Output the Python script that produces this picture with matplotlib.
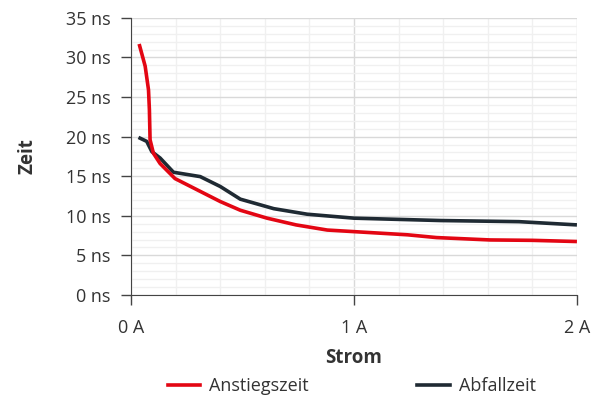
import matplotlib.pyplot as plt
from matplotlib.lines import Line2D

plt.rcParams["font.family"] = ["Open Sans", "DejaVu Sans"]

# Anstiegszeit (rise time)
rise_x = [0.036, 0.063, 0.078, 0.082, 0.085, 0.10, 0.13, 0.197, 0.295, 0.40,
          0.49, 0.61, 0.74, 0.88, 1.0, 1.24, 1.37, 1.61, 1.80, 2.0]
rise_y = [31.7, 28.9, 25.9, 23.4, 19.6, 17.9, 16.6, 14.7, 13.3, 11.8,
          10.7, 9.7, 8.85, 8.2, 8.0, 7.6, 7.25, 6.95, 6.9, 6.75]

# Abfallzeit (fall time)
fall_x = [0.033, 0.07, 0.093, 0.13, 0.19, 0.31, 0.40, 0.49, 0.64, 0.79,
          1.0, 1.39, 1.74, 2.0]
fall_y = [19.9, 19.4, 18.1, 17.3, 15.5, 14.95, 13.7, 12.1, 10.9, 10.2,
          9.7, 9.4, 9.26, 8.85]

red = "#e30613"
dark = "#1f2a33"
tick_col = "#333333"

fig = plt.figure(figsize=(5.96, 3.97), dpi=100)
ax = fig.add_axes([0.22, 0.257, 0.748, 0.698])

ax.plot(rise_x, rise_y, color=red, lw=2.6, solid_capstyle="butt", zorder=3)
ax.plot(fall_x, fall_y, color=dark, lw=2.6, solid_capstyle="butt", zorder=2)

ax.set_xlim(0, 2)
ax.set_ylim(0, 35)
ax.set_xticks([0, 1, 2])
ax.set_xticklabels(["0 A", "1 A", "2 A"])
ax.set_yticks(range(0, 36, 5))
ax.set_yticklabels([f"{v} ns" for v in range(0, 36, 5)])
ax.set_xticks([i * 0.2 for i in range(11)], minor=True)
ax.set_yticks(range(0, 36), minor=True)
ax.tick_params(axis="both", which="minor", length=0)
ax.tick_params(axis="both", which="major", length=7, width=1, color="#444444",
               labelsize=13, labelcolor=tick_col, pad=8)
ax.tick_params(axis="x", which="major", pad=10)

ax.grid(which="major", color="#d9d9d9", lw=1)
ax.grid(which="minor", color="#f0f0f0", lw=1)
ax.set_axisbelow(True)

for s in ["top", "right"]:
    ax.spines[s].set_visible(False)
for s in ["left", "bottom"]:
    ax.spines[s].set_color("#444444")

ax.set_xlabel("Strom", fontsize=13.5, fontweight="bold", color=tick_col, labelpad=8)
ax.set_ylabel("Zeit", fontsize=13.5, fontweight="bold", color=tick_col, labelpad=20)

handles = [Line2D([], [], color=red, lw=2.6), Line2D([], [], color=dark, lw=2.6)]
fig.legend(handles, ["Anstiegszeit", "Abfallzeit"], loc="center",
           bbox_to_anchor=(0.59, 0.028), ncol=2, frameon=False, fontsize=13,
           handlelength=1.8, handletextpad=0.5, columnspacing=6.0,
           labelcolor=tick_col)

fig.savefig("out.png", dpi=100)
